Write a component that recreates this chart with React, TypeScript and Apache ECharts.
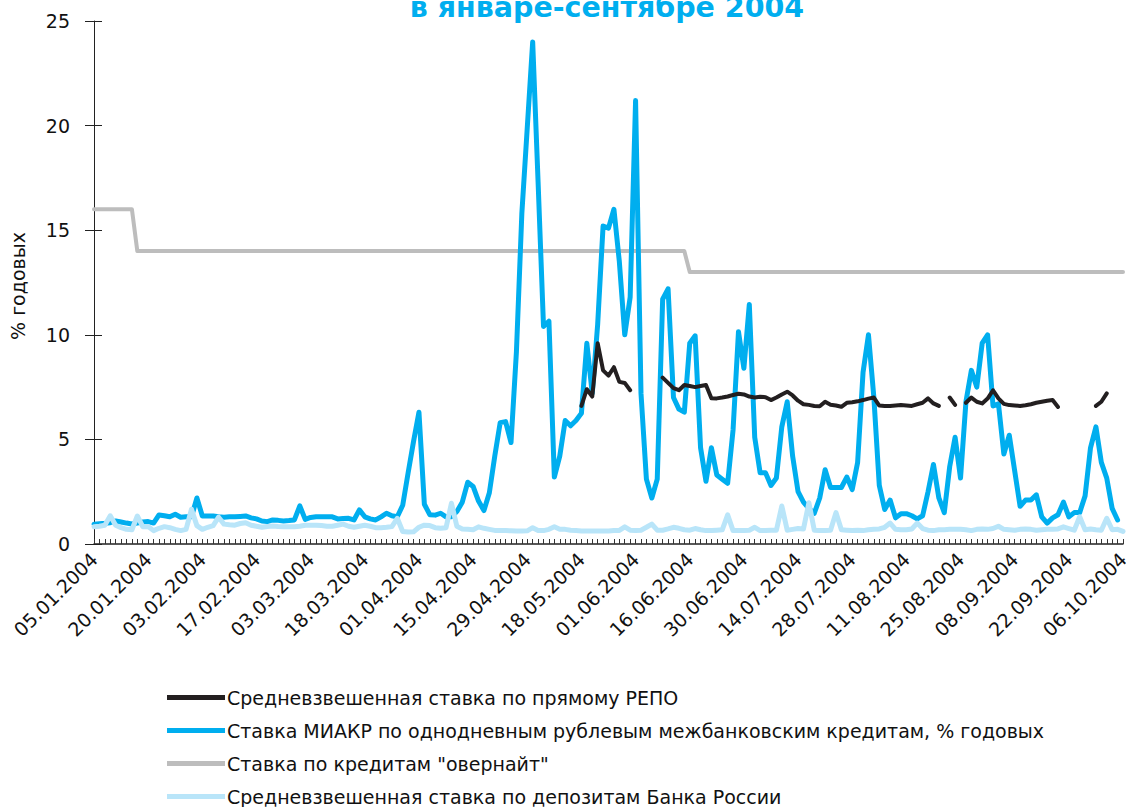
import React, { useEffect, useRef } from "react";
import * as echarts from "echarts";

const TITLE = "в январе-сентябре 2004";
const Y_AXIS_NAME = "% годовых";
const FIRST_DAY = "2004-01-05";
const LAST_DAY = "2004-10-06";
const HOLIDAYS = ["2004-01-07", "2004-02-23", "2004-03-08", "2004-05-03", "2004-05-04", "2004-05-10", "2004-06-14"];

const SERIES_NAMES = [
  "Средневзвешенная ставка по прямому РЕПО",
  "Ставка МИАКР по однодневным рублевым межбанковским кредитам, % годовых",
  "Ставка по кредитам \"овернайт\"",
  "Средневзвешенная ставка по депозитам Банка России",
];
const SERIES_COLORS = ["#231f20", "#00aeef", "#bdbdbd", "#b9e5f9"];

const Y_MIN = 0;
const Y_MAX = 25;
const Y_STEP = 5;

const _ = null;

// Средневзвешенная ставка по прямому РЕПО
const repoRate = [
  _, _, _, _, _, _, _, _, _, _,
  _, _, _, _, _, _, _, _, _, _,
  _, _, _, _, _, _, _, _, _, _,
  _, _, _, _, _, _, _, _, _, _,
  _, _, _, _, _, _, _, _, _, _,
  _, _, _, _, _, _, _, _, _, _,
  _, _, _, _, _, _, _, _, _, _,
  _, _, _, _, _, _, _, _, _, _,
  _, _, _, _, _, _, _, _, _, _,
  6.6, 7.4, 7.05, 9.6, 8.3, 8.05, 8.45, 7.75, 7.7, 7.35,
  _, _, _, _, _, 7.95, 7.7, 7.45, 7.35, 7.6,
  7.55, 7.5, 7.55, 7.6, 6.97, 6.96, 7.0, 7.05, 7.12, 7.18,
  7.15, 7.05, 7.0, 7.04, 7.02, 6.88, 7.0, 7.15, 7.28, 7.1,
  6.85, 6.68, 6.65, 6.6, 6.58, 6.8, 6.66, 6.62, 6.56, 6.75,
  6.78, 6.82, 6.88, 6.95, 7.0, 6.62, 6.6, 6.6, 6.62, 6.64,
  6.62, 6.6, 6.68, 6.75, 6.96, 6.72, 6.6, _, 7.0, 6.65,
  _, 6.75, 7.0, 6.8, 6.72, 6.95, 7.35, 6.96, 6.7, 6.64,
  6.62, 6.6, 6.63, 6.68, 6.75, 6.8, 6.85, 6.88, 6.55, _,
  _, _, _, _, _, 6.6, 6.8, 7.2, _, _,
  _,
];

// Ставка МИАКР
const miacrRate = [
  0.95, 0.97, 0.99, 1.02, 1.1, 1.05, 1.0, 0.96, 1.0, 1.05,
  1.07, 1.0, 1.39, 1.35, 1.3, 1.42, 1.28, 1.3, 1.3, 2.2,
  1.34, 1.34, 1.34, 1.3, 1.28, 1.3, 1.3, 1.32, 1.34, 1.25,
  1.2, 1.1, 1.07, 1.15, 1.13, 1.1, 1.12, 1.15, 1.82, 1.18,
  1.27, 1.3, 1.3, 1.3, 1.3, 1.2, 1.22, 1.23, 1.15, 1.63,
  1.3, 1.2, 1.15, 1.3, 1.47, 1.35, 1.3, 1.85, 3.4, 4.9,
  6.3, 1.9, 1.4, 1.38, 1.47, 1.3, 1.3, 1.55, 2.0, 2.95,
  2.75, 2.05, 1.6, 2.45, 4.2, 5.8, 5.85, 4.85, 9.2, 15.8,
  19.9, 24.0, 17.3, 10.4, 10.65, 3.2, 4.2, 5.9, 5.65, 5.9,
  6.25, 9.6, 7.2, 10.5, 15.2, 15.1, 16.0, 13.5, 10.0, 11.8,
  21.2, 7.2, 3.1, 2.2, 3.1, 11.7, 12.2, 7.0, 6.45, 6.3,
  9.6, 9.95, 4.6, 3.0, 4.6, 3.3, 3.1, 2.9, 5.45, 10.15,
  8.4, 11.45, 5.1, 3.4, 3.4, 2.8, 3.15, 5.6, 6.8, 4.2,
  2.5, 2.0, 1.7, 1.47, 2.2, 3.55, 2.7, 2.7, 2.7, 3.2,
  2.6, 3.9, 8.2, 10.0, 7.0, 2.8, 1.65, 2.1, 1.25, 1.45,
  1.45, 1.35, 1.2, 1.35, 2.5, 3.8, 2.2, 1.5, 3.7, 5.1,
  3.15, 6.8, 8.3, 7.5, 9.6, 10.0, 6.6, 6.7, 4.3, 5.2,
  3.5, 1.8, 2.1, 2.1, 2.35, 1.3, 1.0, 1.25, 1.4, 2.0,
  1.3, 1.5, 1.5, 2.3, 4.6, 5.6, 3.9, 3.15, 1.7, 1.15,
  _,
];

// Ставка по кредитам "овернайт": first date of each level
const overnightStartDates = ["05.01.2004", "16.01.2004", "16.06.2004"];
const overnightLevels = [16, 14, 13];

// Средневзвешенная ставка по депозитам Банка России
const depositRate = [
  0.83, 0.85, 0.9, 1.35, 0.9, 0.78, 0.7, 0.68, 1.34, 0.83,
  0.84, 0.64, 0.75, 0.83, 0.78, 0.7, 0.64, 0.7, 1.66, 0.88,
  0.7, 0.8, 0.88, 1.28, 0.95, 0.92, 0.9, 0.98, 1.02, 0.9,
  0.85, 0.8, 0.84, 0.86, 0.84, 0.83, 0.83, 0.83, 0.85, 0.9,
  0.9, 0.9, 0.88, 0.85, 0.85, 0.9, 0.95, 0.85, 0.8, 0.85,
  0.9, 0.85, 0.78, 0.78, 0.8, 0.83, 1.23, 0.6, 0.57, 0.58,
  0.8, 0.9, 0.88, 0.78, 0.75, 0.78, 1.95, 0.85, 0.72, 0.7,
  0.68, 0.82, 0.75, 0.7, 0.65, 0.65, 0.64, 0.63, 0.62, 0.62,
  0.63, 0.78, 0.65, 0.64, 0.7, 0.82, 0.7, 0.7, 0.66, 0.64,
  0.62, 0.62, 0.62, 0.62, 0.62, 0.62, 0.64, 0.65, 0.82, 0.66,
  0.64, 0.66, 0.8, 0.95, 0.66, 0.66, 0.72, 0.8, 0.75, 0.68,
  0.66, 0.74, 0.68, 0.64, 0.64, 0.66, 0.68, 1.39, 0.64, 0.64,
  0.64, 0.66, 0.8, 0.64, 0.64, 0.66, 0.66, 1.82, 0.66, 0.7,
  0.74, 0.72, 1.97, 0.66, 0.65, 0.65, 0.66, 1.5, 0.68, 0.66,
  0.64, 0.66, 0.64, 0.68, 0.7, 0.72, 0.8, 1.0, 0.7, 0.68,
  0.68, 0.72, 1.0, 0.74, 0.66, 0.64, 0.68, 0.68, 0.7, 0.7,
  0.7, 0.68, 0.64, 0.7, 0.72, 0.7, 0.74, 0.85, 0.7, 0.68,
  0.66, 0.7, 0.72, 0.7, 0.66, 0.68, 0.7, 0.7, 0.72, 0.82,
  0.74, 0.66, 1.3, 0.68, 0.72, 0.68, 0.66, 1.23, 0.68, 0.7,
  0.6,
];

function buildCategories(): string[] {
  const out: string[] = [];
  const d = new Date(FIRST_DAY + "T00:00:00Z");
  const end = new Date(LAST_DAY + "T00:00:00Z");
  while (d.getTime() <= end.getTime()) {
    const iso = d.toISOString().slice(0, 10);
    const wd = d.getUTCDay();
    if (wd !== 0 && wd !== 6 && HOLIDAYS.indexOf(iso) < 0) {
      out.push(iso.slice(8, 10) + "." + iso.slice(5, 7) + "." + iso.slice(0, 4));
    }
    d.setUTCDate(d.getUTCDate() + 1);
  }
  return out;
}

const categories = buildCategories();

function buildOvernight(): number[] {
  const starts = overnightStartDates.map((s) => categories.indexOf(s));
  return categories.map((_c, i) => {
    let v = overnightLevels[0];
    for (let k = 0; k < starts.length; k++) if (starts[k] >= 0 && i >= starts[k]) v = overnightLevels[k];
    return v;
  });
}
const overnightRate = buildOvernight();

const FONT = "DejaVu Sans";

export default function App() {
  const ref = useRef<HTMLDivElement>(null);
  useEffect(() => {
    if (!ref.current) return;
    const chart = echarts.init(ref.current, undefined, { renderer: "svg" });
    const dataSets = [repoRate, miacrRate, overnightRate, depositRate];
    const widths = [4, 5, 4, 5];
    const zs = [5, 3, 2, 4];
    chart.setOption({
      animation: false,
      backgroundColor: "#ffffff",
      grid: { left: 94, right: 3, top: 21, bottom: 263, outerBoundsMode: "none", containLabel: false },
      legend: {
        orient: "vertical",
        left: 162,
        top: 683,
        height: 160,
        itemWidth: 58,
        itemHeight: 5,
        itemGap: 14,
        icon: "rect",
        selectedMode: false,
        data: SERIES_NAMES,
        textStyle: { fontFamily: FONT, fontSize: 19, color: "#111111", padding: [0, 0, 0, -3] },
      },
      xAxis: {
        type: "category",
        data: categories,
        boundaryGap: false,
        axisLine: { show: true, lineStyle: { color: "#222222", width: 1.5 } },
        axisTick: { show: true, inside: true, length: 5, interval: 0, lineStyle: { color: "#333333", width: 1 } },
        axisLabel: {
          interval: 9,
          rotate: 45,
          margin: 12,
          padding: [14, 0, 0, 0],
          fontFamily: FONT,
          fontSize: 19,
          color: "#111111",
        },
        splitLine: { show: false },
      },
      yAxis: [
        {
          type: "value",
          min: Y_MIN,
          max: Y_MAX,
          interval: Y_STEP,
          axisLine: { show: true, lineStyle: { color: "#222222", width: 1 } },
          axisTick: { show: true, length: 9, lineStyle: { color: "#222222" } },
          axisLabel: { margin: 24, fontFamily: FONT, fontSize: 19, color: "#111111" },
          splitLine: { show: false },
        },
        {
          type: "value",
          min: Y_MIN,
          max: Y_MAX,
          interval: Y_STEP,
          position: "left",
          offset: 0,
          axisLine: { show: false },
          axisTick: { show: true, inside: true, length: 8, lineStyle: { color: "#222222" } },
          axisLabel: { show: false },
          splitLine: { show: false },
        },
      ],
      series: SERIES_NAMES.map((name, i) => ({
        name,
        type: "line",
        data: dataSets[i],
        yAxisIndex: 0,
        symbol: "none",
        showSymbol: false,
        connectNulls: false,
        z: zs[i],
        itemStyle: { color: SERIES_COLORS[i] },
        lineStyle: { color: SERIES_COLORS[i], width: widths[i], cap: "round", join: "round" },
      })),
      graphic: [
        {
          type: "text",
          x: 607,
          y: 7,
          silent: true,
          style: {
            text: TITLE,
            fill: "#00aeef",
            font: `bold 28.5px "${FONT}"`,
            align: "center",
            verticalAlign: "middle",
          },
        },
        {
          type: "text",
          x: 18,
          y: 286,
          rotation: Math.PI / 2,
          silent: true,
          style: {
            text: Y_AXIS_NAME,
            fill: "#111111",
            font: `19px "${FONT}"`,
            align: "center",
            verticalAlign: "middle",
          },
        },
      ],
    });
    return () => chart.dispose();
  }, []);
  return (
    <div
      ref={ref}
      style={{ position: "absolute", left: 0, top: 0, width: 1126, height: 807, background: "#fff" }}
    />
  );
}
